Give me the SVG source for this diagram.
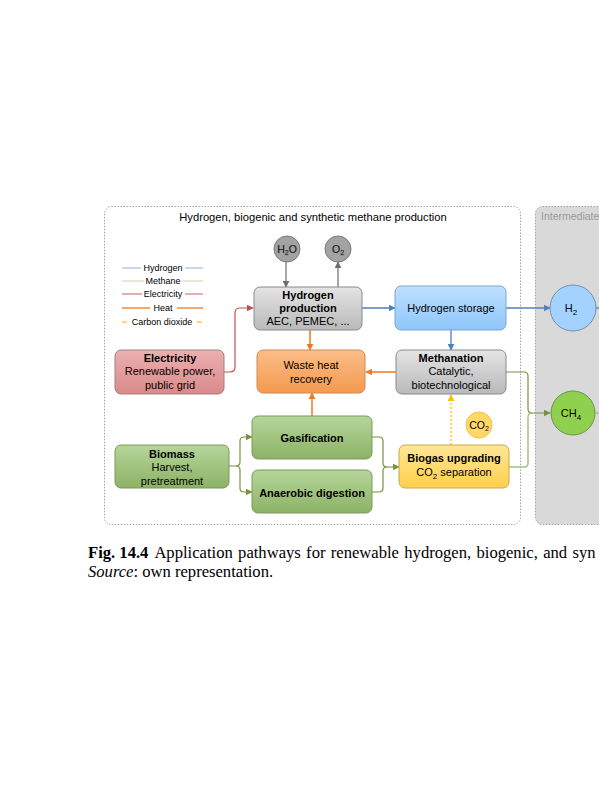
<svg xmlns="http://www.w3.org/2000/svg" width="599" height="800" viewBox="0 0 599 800">
<style>
.t{font-family:"Liberation Sans",Arial,sans-serif;fill:#000;text-anchor:middle}
.b{font-weight:bold}
.cb{fill:none;stroke:#4f81bd;stroke-width:1.3}
.co{fill:none;stroke:#f07820;stroke-width:1.5}
.cr{fill:none;stroke:#c0504d;stroke-width:1.2}
.cg{fill:none;stroke:#77933c;stroke-width:1.2}
.cgl{fill:none;stroke:#a8bf80;stroke-width:1.5}
.cy{fill:none;stroke:#ffc000;stroke-width:1.3;stroke-dasharray:2 2}
.ck{fill:none;stroke:#6d6d6d;stroke-width:1.2}
.cap{font-family:"Liberation Serif","Times New Roman",serif;font-size:16.6px;fill:#000}
</style>
<defs>
<linearGradient id="gGray" x1="0" y1="0" x2="0" y2="1"><stop offset="0" stop-color="#e4e4e4"/><stop offset="1" stop-color="#b9b9b9"/></linearGradient>
<linearGradient id="gBlue" x1="0" y1="0" x2="0" y2="1"><stop offset="0" stop-color="#bfe0ff"/><stop offset="1" stop-color="#8ec6fb"/></linearGradient>
<linearGradient id="gOr" x1="0" y1="0" x2="0" y2="1"><stop offset="0" stop-color="#fbbd88"/><stop offset="1" stop-color="#f39a4e"/></linearGradient>
<linearGradient id="gRed" x1="0" y1="0" x2="0" y2="1"><stop offset="0" stop-color="#ecb0b0"/><stop offset="1" stop-color="#d98a8a"/></linearGradient>
<linearGradient id="gGr" x1="0" y1="0" x2="0" y2="1"><stop offset="0" stop-color="#b6d69a"/><stop offset="1" stop-color="#8cb266"/></linearGradient>
<linearGradient id="gYe" x1="0" y1="0" x2="0" y2="1"><stop offset="0" stop-color="#ffe697"/><stop offset="1" stop-color="#ffd04a"/></linearGradient>
<marker id="aB" viewBox="0 0 10 10" refX="9" refY="5" markerWidth="7" markerHeight="7" orient="auto" markerUnits="userSpaceOnUse"><path d="M0,0 L10,5 L0,10 z" fill="#4f81bd"/></marker>
<marker id="aO" viewBox="0 0 10 10" refX="9" refY="5" markerWidth="7" markerHeight="7" orient="auto" markerUnits="userSpaceOnUse"><path d="M0,0 L10,5 L0,10 z" fill="#f07820"/></marker>
<marker id="aR" viewBox="0 0 10 10" refX="9" refY="5" markerWidth="7" markerHeight="7" orient="auto" markerUnits="userSpaceOnUse"><path d="M0,0 L10,5 L0,10 z" fill="#c0504d"/></marker>
<marker id="aG" viewBox="0 0 10 10" refX="9" refY="5" markerWidth="7" markerHeight="7" orient="auto" markerUnits="userSpaceOnUse"><path d="M0,0 L10,5 L0,10 z" fill="#77933c"/></marker>
<marker id="aY" viewBox="0 0 10 10" refX="9" refY="5" markerWidth="7" markerHeight="7" orient="auto" markerUnits="userSpaceOnUse"><path d="M0,0 L10,5 L0,10 z" fill="#ffc000"/></marker>
<marker id="aK" viewBox="0 0 10 10" refX="9" refY="5" markerWidth="7" markerHeight="7" orient="auto" markerUnits="userSpaceOnUse"><path d="M0,0 L10,5 L0,10 z" fill="#6d6d6d"/></marker>
</defs>
<rect width="599" height="800" fill="#fff"/>

<g id="panel-main">
<rect x="104.5" y="206.5" width="416" height="318" rx="7" fill="#fff" stroke="#8c8c8c" stroke-width="0.8" stroke-dasharray="1.5 1.5"/>
<text class="t" x="313" y="221" font-size="11.2">Hydrogen, biogenic and synthetic methane production</text>
</g>
<g id="panel-intermediate">
<rect x="535.5" y="206.5" width="80" height="318" rx="7" fill="#d9d9d9" stroke="#8c8c8c" stroke-width="0.8" stroke-dasharray="1.5 1.5"/>
<text x="541" y="220" font-family="Liberation Sans,Arial,sans-serif" font-size="10.5" fill="#9a9a9a">Intermediate</text>
</g>

<g id="legend" font-family="Liberation Sans,Arial,sans-serif" font-size="9">
<line x1="122" y1="268" x2="141" y2="268" stroke="#8fb0d8" stroke-width="1"/><line x1="185" y1="268" x2="203" y2="268" stroke="#8fb0d8" stroke-width="1"/>
<text class="t" x="163" y="271">Hydrogen</text>
<line x1="122" y1="281" x2="144" y2="281" stroke="#c3d9a8" stroke-width="1"/><line x1="182" y1="281" x2="203" y2="281" stroke="#c3d9a8" stroke-width="1"/>
<text class="t" x="163" y="284">Methane</text>
<line x1="122" y1="294" x2="142" y2="294" stroke="#c0504d" stroke-width="0.9"/><line x1="185" y1="294" x2="203" y2="294" stroke="#c0504d" stroke-width="0.9"/>
<text class="t" x="163" y="297">Electricity</text>
<line x1="122" y1="308" x2="150" y2="308" stroke="#f07820" stroke-width="1.3"/><line x1="177" y1="308" x2="203" y2="308" stroke="#f07820" stroke-width="1.3"/>
<text class="t" x="163" y="311">Heat</text>
<line x1="122" y1="322" x2="127" y2="322" stroke="#ffc000" stroke-width="1.2"/><line x1="197" y1="322" x2="202" y2="322" stroke="#ffc000" stroke-width="1.2"/>
<text class="t" x="162" y="325">Carbon dioxide</text>
</g>

<g id="connectors">
<line class="ck" x1="286" y1="262" x2="286" y2="287" marker-end="url(#aK)"/>
<line class="ck" x1="338" y1="287" x2="338" y2="262" marker-end="url(#aK)"/>
<line class="cb" x1="362" y1="308" x2="395" y2="308" marker-end="url(#aB)"/>
<line class="cb" x1="506" y1="308" x2="550" y2="308" marker-end="url(#aB)"/>
<line class="cb" x1="451" y1="330" x2="451" y2="350" marker-end="url(#aB)"/>
<line class="cb" x1="596" y1="308" x2="599" y2="308"/>
<line class="co" x1="310" y1="330" x2="310" y2="350" marker-end="url(#aO)"/>
<line class="co" x1="396" y1="372" x2="366" y2="372" marker-end="url(#aO)"/>
<line class="co" x1="312" y1="416" x2="312" y2="393" marker-end="url(#aO)"/>
<path class="cr" d="M224,372 H230 Q235,372 235,367 V313 Q235,308 240,308 H253" marker-end="url(#aR)"/>
<path class="cg" d="M229,466 H236 Q240,466 240,462 V441 Q240,437 244,437 H252" marker-end="url(#aG)"/>
<path class="cg" d="M236,466 Q240,466 240,470 V488 Q240,492 244,492 H252" marker-end="url(#aG)"/>
<path class="cg" d="M372,437 H379 Q383,437 383,441 V463 Q383,467 387,467 H399" marker-end="url(#aG)"/>
<path class="cg" d="M372,492 H379 Q383,492 383,488 V471 Q383,467 387,467"/>
<path class="cg" d="M506,372 H524 Q528,372 528,376 V409 Q528,413 532,413 H550" marker-end="url(#aG)"/>
<path class="cgl" d="M509,467 H524 Q528,467 528,463 V417 Q528,413 532,413"/>
<line class="cy" x1="451" y1="445" x2="451" y2="395" marker-end="url(#aY)"/>
<line class="cgl" x1="596" y1="413" x2="599" y2="413"/>
</g>

<g id="h2o">
<circle cx="287" cy="249" r="13" fill="#a3a3a3" stroke="#7a7a7a"/>
<text class="t" x="287" y="253" font-size="10.5" fill="#e6e6e6" stroke="#5a5a5a" stroke-width="0.25">H<tspan font-size="7" dy="2">2</tspan><tspan dy="-2">O</tspan></text>
</g>
<g id="o2">
<circle cx="338" cy="249" r="13" fill="#a3a3a3" stroke="#7a7a7a"/>
<text class="t" x="338" y="253" font-size="10.5" fill="#e6e6e6" stroke="#5a5a5a" stroke-width="0.25">O<tspan font-size="7" dy="2">2</tspan></text>
</g>

<g id="hydrogen-production">
<rect x="254" y="287" width="108" height="43" rx="6" fill="url(#gGray)" stroke="#8a8a8a"/>
<text class="t b" x="308" y="299" font-size="11">Hydrogen</text>
<text class="t b" x="308" y="312" font-size="11">production</text>
<text class="t" x="308" y="325" font-size="11">AEC, PEMEC, ...</text>
</g>
<g id="hydrogen-storage">
<rect x="395" y="286" width="111" height="44" rx="6" fill="url(#gBlue)" stroke="#7aa6d2"/>
<text class="t" x="451" y="312" font-size="11">Hydrogen storage</text>
</g>
<g id="h2">
<circle cx="573" cy="308" r="23" fill="#a4d2ff" stroke="#6f8fb0"/>
<text class="t" x="571" y="312" font-size="11">H<tspan font-size="8" dy="3">2</tspan></text>
</g>
<g id="electricity">
<rect x="115" y="350" width="109" height="44" rx="6" fill="url(#gRed)" stroke="#a08080"/>
<text class="t b" x="170" y="362" font-size="11">Electricity</text>
<text class="t" x="170" y="375" font-size="11">Renewable power,</text>
<text class="t" x="170" y="389" font-size="11">public grid</text>
</g>
<g id="waste-heat">
<rect x="257" y="350" width="108" height="43" rx="6" fill="url(#gOr)" stroke="#d08a55"/>
<text class="t" x="311" y="369" font-size="11">Waste heat</text>
<text class="t" x="311" y="383" font-size="11">recovery</text>
</g>
<g id="methanation">
<rect x="396" y="350" width="110" height="44" rx="6" fill="url(#gGray)" stroke="#8a8a8a"/>
<text class="t b" x="451" y="362" font-size="11">Methanation</text>
<text class="t" x="451" y="375" font-size="11">Catalytic,</text>
<text class="t" x="451" y="389" font-size="11">biotechnological</text>
</g>
<g id="ch4">
<circle cx="573" cy="413" r="22" fill="#8fd14f" stroke="#6d8f4e"/>
<text class="t" x="571" y="417" font-size="11">CH<tspan font-size="8" dy="3">4</tspan></text>
</g>
<g id="co2">
<circle cx="479" cy="425" r="13" fill="#ffd966" stroke="#f5c342"/>
<text class="t" x="479" y="429" font-size="10.5" fill="#a0522d">CO<tspan font-size="7" dy="2">2</tspan></text>
</g>
<g id="gasification">
<rect x="252" y="416" width="120" height="43" rx="6" fill="url(#gGr)" stroke="#7a9a5a"/>
<text class="t b" x="312" y="442" font-size="11">Gasification</text>
</g>
<g id="anaerobic-digestion">
<rect x="252" y="470" width="120" height="43" rx="6" fill="url(#gGr)" stroke="#7a9a5a"/>
<text class="t b" x="312" y="497" font-size="11">Anaerobic digestion</text>
</g>
<g id="biomass">
<rect x="115" y="445" width="114" height="43" rx="6" fill="url(#gGr)" stroke="#7a9a5a"/>
<text class="t b" x="172" y="458" font-size="11">Biomass</text>
<text class="t" x="172" y="471" font-size="11">Harvest,</text>
<text class="t" x="172" y="485" font-size="11">pretreatment</text>
</g>
<g id="biogas-upgrading">
<rect x="399" y="445" width="110" height="43" rx="6" fill="url(#gYe)" stroke="#c9a84a"/>
<text class="t b" x="454" y="462" font-size="11">Biogas upgrading</text>
<text class="t" x="454" y="476" font-size="11">CO<tspan font-size="8" dy="3">2</tspan><tspan dy="-3"> separation</tspan></text>
</g>

<g id="caption">
<text class="cap" x="88" y="558"><tspan font-weight="bold">Fig. 14.4</tspan><tspan dx="6" word-spacing="1.2">Application pathways for renewable hydrogen, biogenic, and syn</tspan></text>
<text class="cap" x="88" y="577"><tspan font-style="italic">Source</tspan>: own representation.</text>
</g>
</svg>
